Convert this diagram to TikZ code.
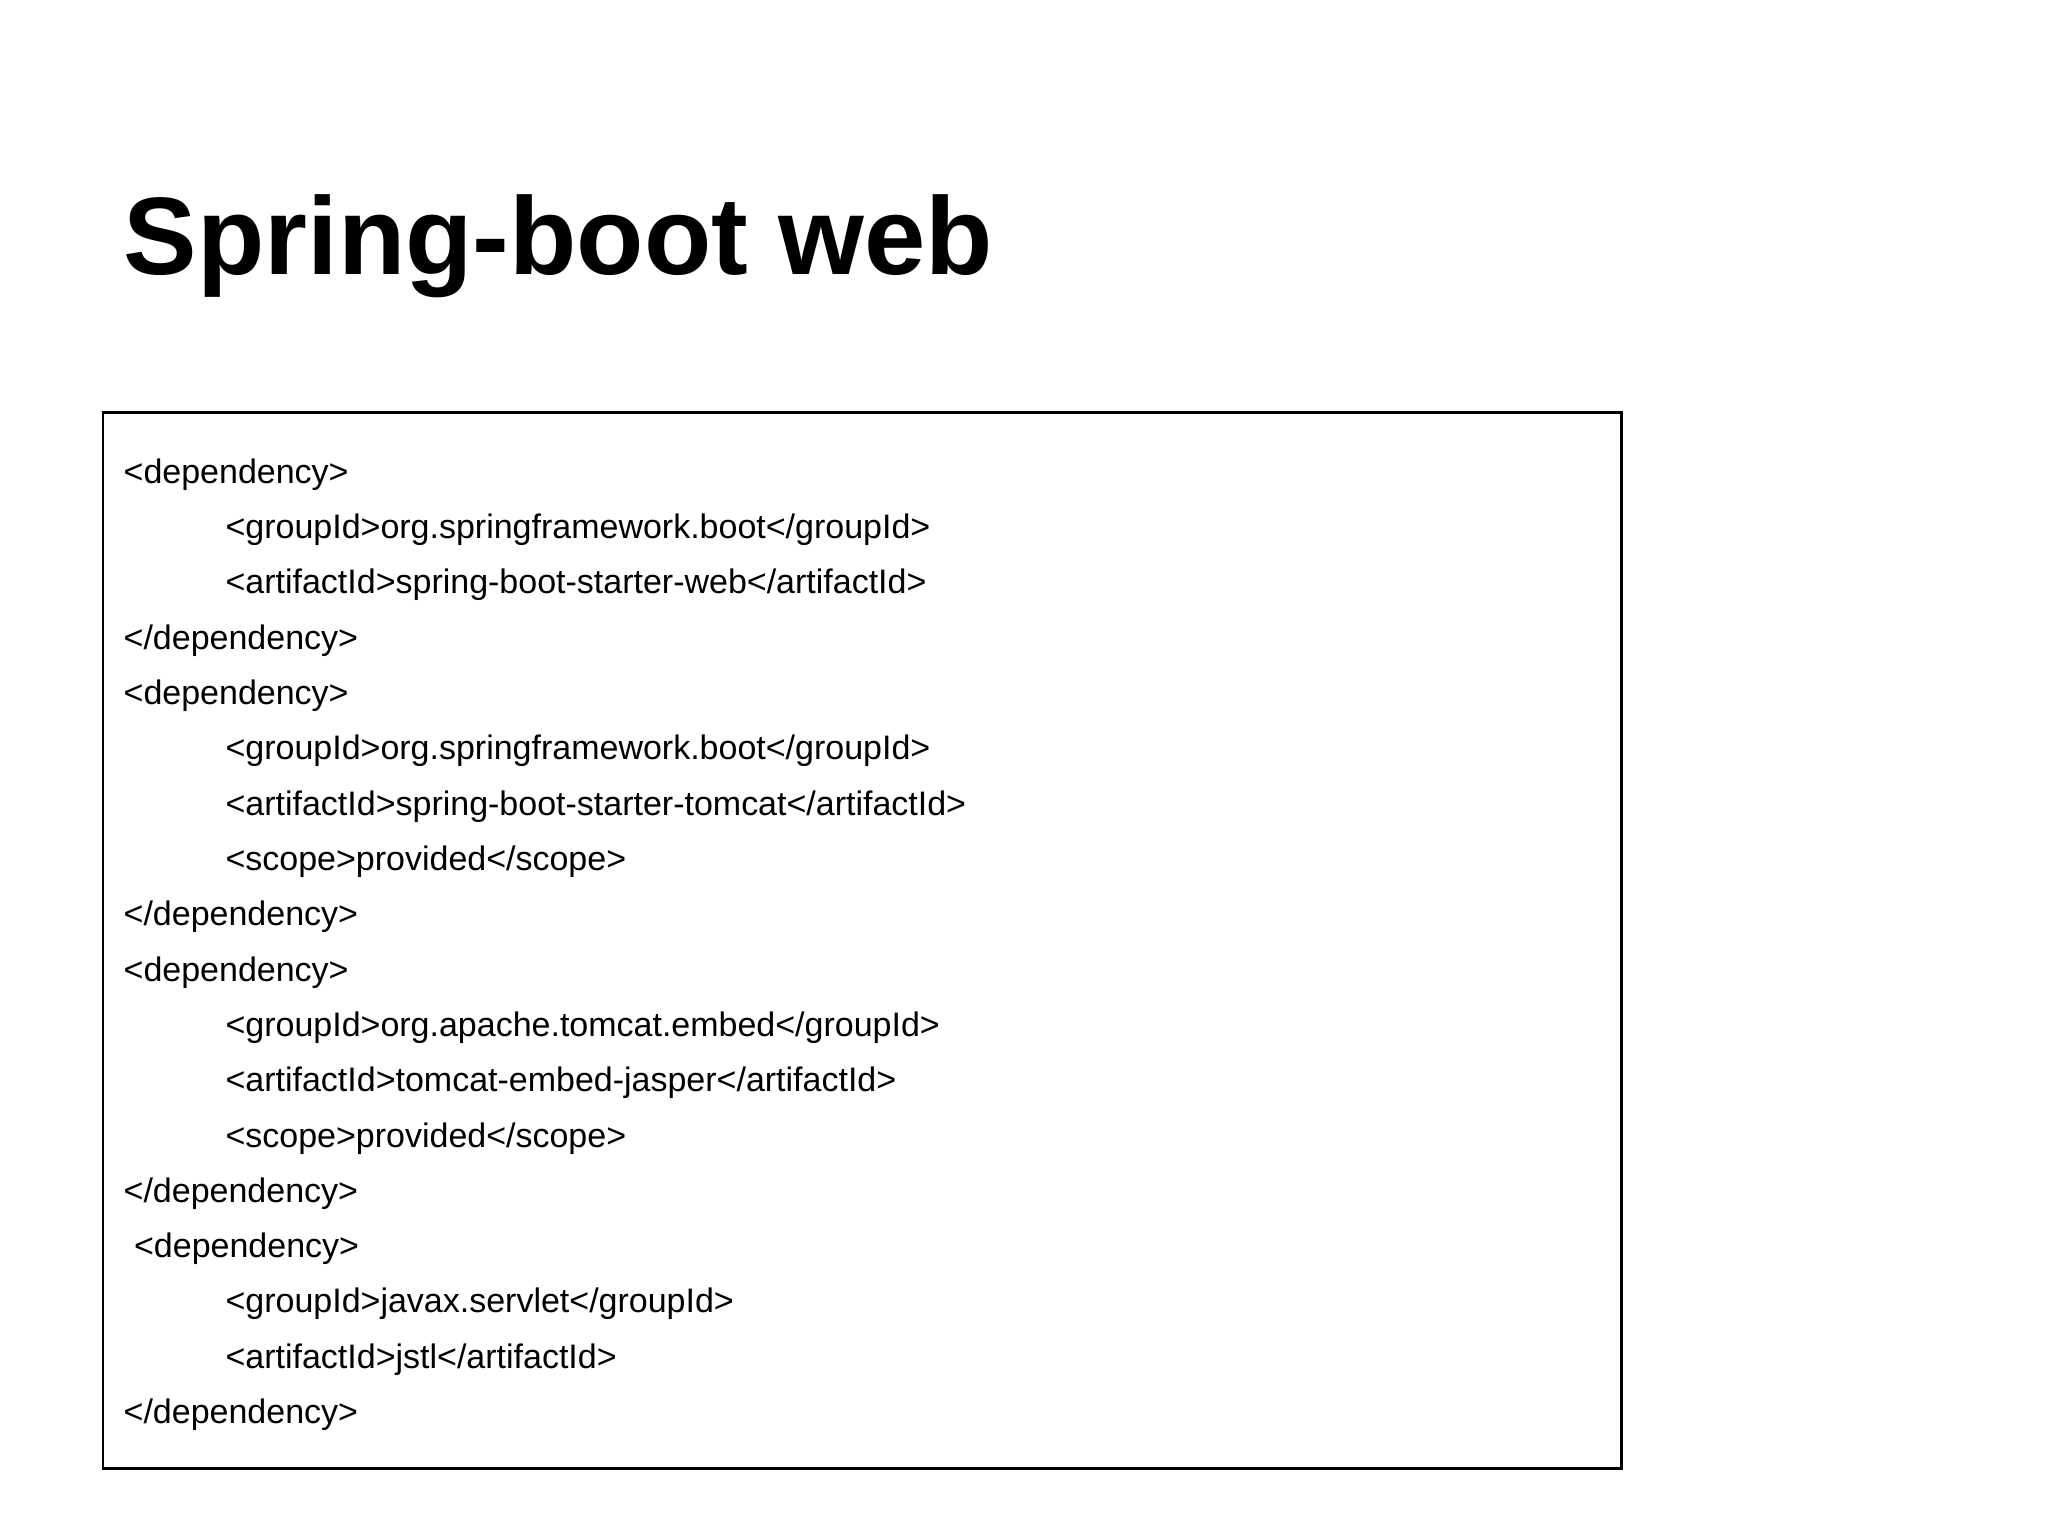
\documentclass[tikz,border=0pt]{standalone}
\usepackage{fontspec}
\setmainfont{Liberation Sans}
\begin{document}
\begin{tikzpicture}[x=0.01cm,y=-0.01cm,
  code/.style={anchor=base west,inner sep=0pt,font=\fontsize{7.4pt}{8pt}\selectfont},
  title/.style={anchor=base west,inner sep=0pt,font=\fontsize{24pt}{28pt}\selectfont\bfseries}]
\useasboundingbox[fill=white] (0,0) rectangle (1568,1176);
\node[title] (t) at (94,210) {Spring-boot web};
\node[draw=black,line width=0.5pt,minimum width=11.62cm,minimum height=8.08cm,anchor=north west,inner sep=0pt] (box) at (78,315) {};
\def\L#1#2#3{\node[code] (l#1) at (#2,{370+(#1-1)*42.35}) {#3};}
\L{1}{94}{<dependency>}
\L{2}{172}{<groupId>org.springframework.boot</groupId>}
\L{3}{172}{<artifactId>spring-boot-starter-web</artifactId>}
\L{4}{94}{</dependency>}
\L{5}{94}{<dependency>}
\L{6}{172}{<groupId>org.springframework.boot</groupId>}
\L{7}{172}{<artifactId>spring-boot-starter-tomcat</artifactId>}
\L{8}{172}{<scope>provided</scope>}
\L{9}{94}{</dependency>}
\L{10}{94}{<dependency>}
\L{11}{172}{<groupId>org.apache.tomcat.embed</groupId>}
\L{12}{172}{<artifactId>tomcat-embed-jasper</artifactId>}
\L{13}{172}{<scope>provided</scope>}
\L{14}{94}{</dependency>}
\L{15}{102}{<dependency>}
\L{16}{172}{<groupId>javax.servlet</groupId>}
\L{17}{172}{<artifactId>jstl</artifactId>}
\L{18}{94}{</dependency>}
\end{tikzpicture}
\end{document}
